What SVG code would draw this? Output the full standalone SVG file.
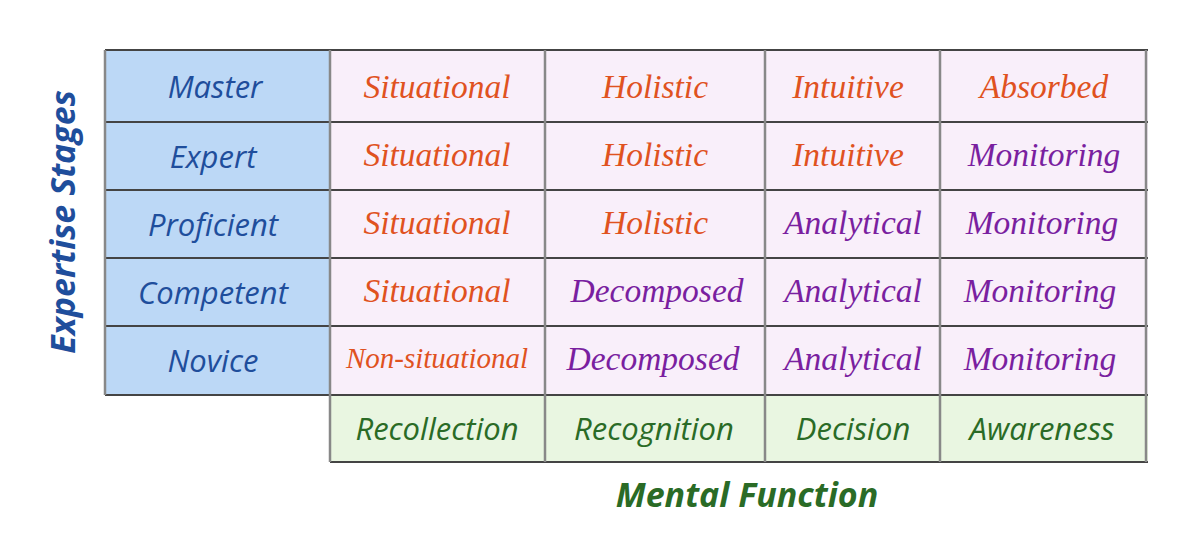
<svg xmlns="http://www.w3.org/2000/svg" width="1200" height="555" viewBox="0 0 1200 555">
<style>
.s{font-family:"Open Sans","Noto Sans",sans-serif;font-style:italic;font-size:31px;font-weight:500;text-anchor:middle;dominant-baseline:central}
.c{font-family:"Liberation Serif",serif;font-style:italic;font-size:33.5px;text-anchor:middle;dominant-baseline:central}
.b{fill:#1f4e9c}.o{fill:#e0521f}.p{fill:#7a1fa0}.g{fill:#2a6b26}
.l{stroke:#444;stroke-width:2;fill:none}.v{stroke:#888;stroke-width:2.5;fill:none}
</style>
<rect width="1200" height="555" fill="#fff"/>
<rect x="105" y="50" width="225" height="345" fill="#bcd8f6"/>
<rect x="330" y="50" width="818" height="345" fill="#f9effa"/>
<rect x="330" y="395" width="818" height="67" fill="#e9f6e1"/>
<g id="connectors">
<path class="l" d="M105 50H1148M105 122H1148M105 190H1148M105 258H1148M105 326H1148M105 395H1148M330 462H1148"/>
<path class="v" d="M105 50V395M330 50V462M545 50V462M765 50V462M940 50V462M1146 50V462"/>
</g>
<g id="rowlabels">
<text class="s b" x="215" y="86">Master</text>
<text class="s b" x="213" y="156">Expert</text>
<text class="s b" x="213" y="224">Proficient</text>
<text class="s b" x="213" y="292">Competent</text>
<text class="s b" x="213" y="360">Novice</text>
</g>
<g id="cells">
<text class="c o" x="437" y="86">Situational</text>
<text class="c o" x="655" y="86">Holistic</text>
<text class="c o" x="848" y="86">Intuitive</text>
<text class="c o" x="1044" y="86">Absorbed</text>
<text class="c o" x="437" y="154">Situational</text>
<text class="c o" x="655" y="154">Holistic</text>
<text class="c o" x="848" y="154">Intuitive</text>
<text class="c p" x="1044" y="154">Monitoring</text>
<text class="c o" x="437" y="222">Situational</text>
<text class="c o" x="655" y="222">Holistic</text>
<text class="c p" x="853" y="222">Analytical</text>
<text class="c p" x="1042" y="222">Monitoring</text>
<text class="c o" x="437" y="290">Situational</text>
<text class="c p" x="657" y="290">Decomposed</text>
<text class="c p" x="853" y="290">Analytical</text>
<text class="c p" x="1040" y="290">Monitoring</text>
<text class="c o" x="437" y="358" style="font-size:29px">Non-situational</text>
<text class="c p" x="653" y="358">Decomposed</text>
<text class="c p" x="853" y="358">Analytical</text>
<text class="c p" x="1040" y="358">Monitoring</text>
</g>
<g id="functions">
<text class="s g" x="437" y="428">Recollection</text>
<text class="s g" x="654" y="428">Recognition</text>
<text class="s g" x="853" y="428">Decision</text>
<text class="s g" x="1042" y="428">Awareness</text>
</g>
<text class="s b" x="0" y="0" style="font-weight:bold;font-size:34px" transform="translate(62 222) rotate(-90)">Expertise Stages</text>
<text class="s g" x="747" y="494" style="font-weight:bold;font-size:34px">Mental Function</text>
</svg>
